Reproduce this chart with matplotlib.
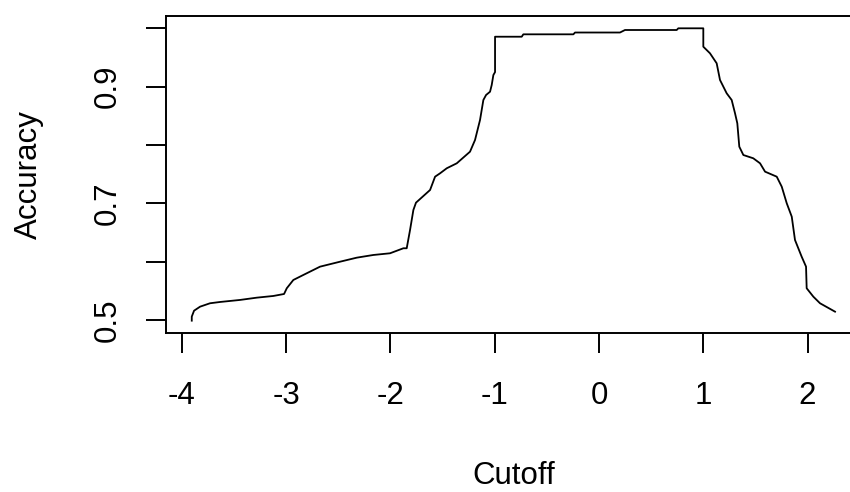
import matplotlib
matplotlib.use('Agg')
import matplotlib.pyplot as plt

# accuracy vs cutoff
cutoff = [-3.905, -3.905, -3.883, -3.825, -3.730, -3.634, -3.442, -3.282, -3.123,
          -3.020, -2.994, -2.931, -2.835, -2.675, -2.483, -2.323, -2.164, -2.004,
          -1.876, -1.844, -1.812, -1.780, -1.755, -1.620, -1.572, -1.524, -1.460,
          -1.364, -1.237, -1.189, -1.141, -1.109, -1.083, -1.045, -1.029, -1.013,
          -0.997, -0.997, -0.741, -0.726, -0.246, -0.230, 0.201, 0.249, 0.745,
          0.760, 1.000, 1.000, 1.064, 1.128, 1.160, 1.224, 1.272, 1.304, 1.326,
          1.345, 1.384, 1.479, 1.544, 1.592, 1.704, 1.752, 1.800, 1.848, 1.879,
          1.943, 1.985, 1.991, 2.055, 2.119, 2.263]
accuracy = [0.4993, 0.5062, 0.5164, 0.5233, 0.5291, 0.5313, 0.5348, 0.5387, 0.5416,
            0.5450, 0.5548, 0.5690, 0.5776, 0.5918, 0.6003, 0.6072, 0.6118, 0.6147,
            0.6233, 0.6233, 0.6546, 0.6889, 0.7014, 0.7231, 0.7459, 0.7517, 0.7603,
            0.7688, 0.7887, 0.8087, 0.8430, 0.8772, 0.8858, 0.8914, 0.9029, 0.9200,
            0.9250, 0.9856, 0.9856, 0.9897, 0.9897, 0.9928, 0.9928, 0.9971, 0.9971,
            1.0000, 1.0000, 0.9685, 0.9572, 0.9401, 0.9115, 0.8887, 0.8772, 0.8545,
            0.8373, 0.7973, 0.7830, 0.7774, 0.7688, 0.7545, 0.7459, 0.7288, 0.7003,
            0.6774, 0.6375, 0.6089, 0.5918, 0.5548, 0.5404, 0.5291, 0.5147]

xticks = [-4, -3, -2, -1, 0, 1, 2]
yticks = [0.5, 0.6, 0.7, 0.8, 0.9, 1.0]
ytick_labels = ['0.5', '', '0.7', '', '0.9', '']

plt.rcParams['font.family'] = ['Liberation Sans', 'DejaVu Sans']
fs = 22.5

fig = plt.figure(figsize=(8.5, 4.92), dpi=100)
ax = fig.add_axes([0.1953, 0.3226, 0.8174, 0.6455])

ax.plot(cutoff, accuracy, color='black', lw=1.3)

ax.set_xlim(-4.152, 2.51)
ax.set_ylim(0.4777, 1.0216)
ax.set_xticks(xticks)
ax.set_xticklabels([str(t) for t in xticks])
ax.set_yticks(yticks)
ax.set_yticklabels(ytick_labels, rotation=90, va='center')

for s in ax.spines.values():
    s.set_linewidth(1.4)
ax.tick_params(axis='both', length=14.4, width=1.4, labelsize=fs)
ax.tick_params(axis='x', pad=20)
ax.tick_params(axis='y', pad=16.5)

ax.set_xlabel('Cutoff', fontsize=fs, labelpad=36)
ax.set_ylabel('Accuracy', fontsize=fs, labelpad=35.5)

fig.savefig('out.png', dpi=100)
